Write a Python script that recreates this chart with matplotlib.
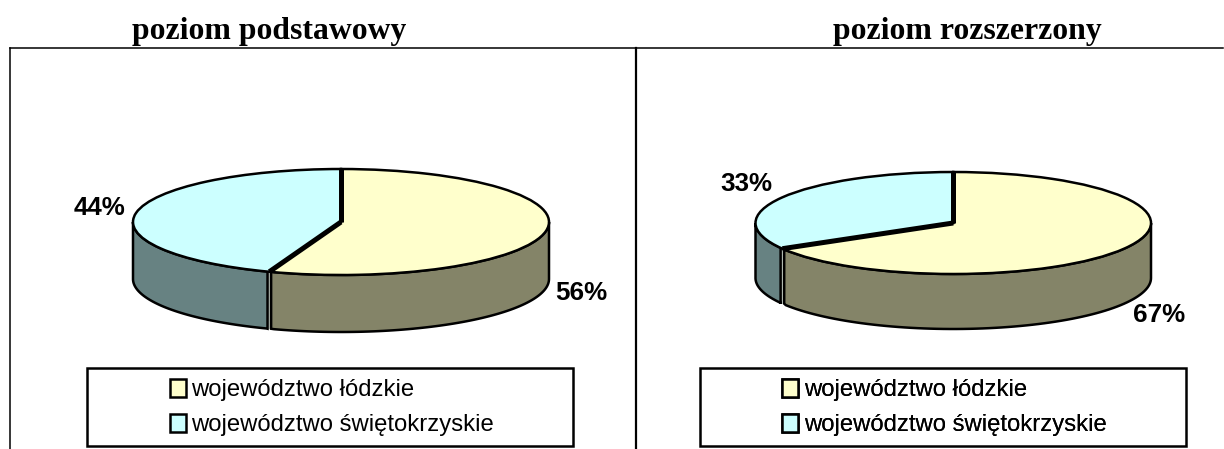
import numpy as np
import matplotlib
matplotlib.use('Agg')
import matplotlib.pyplot as plt
from matplotlib.patches import Patch, Rectangle, Polygon

W, H = 1224, 449

# data (read from the slice edges, the labels show them rounded)
titles = ['poziom podstawowy', 'poziom rozszerzony']
regions = ['województwo łódzkie', 'województwo świętokrzyskie']
values_basic = [55.6, 44.4]
values_ext = [66.6, 33.4]

colors_top = ['#FFFFCC', '#CCFFFF']
colors_wall = ['#848468', '#678282']

fig = plt.figure(figsize=(W/100, H/100), dpi=100, facecolor='white')

# background axes in pixel coordinates: frame, titles, legends, labels
bg = fig.add_axes([0, 0, 1, 1])
bg.set_xlim(0, W), bg.set_ylim(H, 0)
bg.axis('off')

bg.plot([10, W-1], [48, 48], 'k', lw=1.1)
bg.plot([10, 10], [48, H], 'k', lw=1.1)
bg.plot([635.5, 635.5], [48, H], 'k', lw=1.6)


def draw_pie(values, box, depth, labels_xy, title_x, legend_box, legend_x, title):
    x0, x1, y_top, ry = box
    # axes holds the pie top (unit ellipse) plus the wall under it
    bottom = y_top + 2*ry + depth
    ax = fig.add_axes([x0/W, 1-bottom/H, (x1-x0)/W, (bottom-y_top)/H])
    ax.pie(values, colors=colors_top, startangle=90, counterclock=False, radius=1,
           wedgeprops=dict(edgecolor='k', linewidth=1.8, clip_on=False, zorder=3))
    ax.set_aspect('auto')
    ax.set_xlim(-1, 1)
    d = depth/ry
    ax.set_ylim(-1-d, 1)
    ax.axis('off')

    # side wall, only the front part of the ellipse shows
    frac = np.cumsum(values)/np.sum(values)
    t_split = 90 - 360*frac[0]      # yellow runs clockwise from 90 to here
    spans = [(t_split, 0), (180, 360 + t_split)]
    gap = 1.8/((x1-x0)/2)
    x_split = np.cos(np.radians(t_split))
    y_split = np.sin(np.radians(t_split))
    ax.fill_between([x_split-gap, x_split+gap], [y_split]*2, [y_split-d]*2,
                    color='#b8c0b8', lw=0, zorder=0)
    for i, ((a, b), c) in enumerate(zip(spans, colors_wall)):
        th = np.radians(np.linspace(a, b, 80))
        xs = np.cos(th)
        ys = np.sin(th)
        # pull the cut faces apart a little, the outer edges stay put
        xs = np.maximum(xs, x_split+gap) if i == 0 else np.minimum(xs, x_split-gap)
        pts = np.r_[np.c_[xs, ys], np.c_[xs[::-1], ys[::-1]-d]]
        ax.add_patch(Polygon(pts, closed=True, fc=c, ec='k', lw=1.8, clip_on=False, zorder=1))

    # thick radial separators on the top
    for ang in [90, t_split]:
        ax.plot([0, np.cos(np.radians(ang))], [0, np.sin(np.radians(ang))], 'k', lw=3.6,
                solid_capstyle='butt', clip_on=False, zorder=4)

    for v, (lx, ly) in zip(values, labels_xy):
        bg.text(lx, ly, f'{v:.0f}%', ha='center', va='center', fontsize=18.7, fontweight='bold',
                family='Liberation Sans')

    bg.text(title_x, 31, title, ha='center', va='center', fontsize=22.9, fontweight='bold',
            family='Liberation Serif')

    lx0, lx1, ly0, ly1 = legend_box
    bg.add_patch(Rectangle((lx0, ly0), lx1-lx0, ly1-ly0, fc='white', ec='k', lw=1.8))
    handles = [Patch(fc=c, ec='k', lw=1.8) for c in colors_top]
    leg = bg.legend(handles, regions, loc='center left', bbox_to_anchor=(legend_x, (ly0+ly1)/2 + 0.7),
                    bbox_transform=bg.transData, frameon=False, borderpad=0, borderaxespad=0,
                    handlelength=0.67, handleheight=0.75, handletextpad=0.25, labelspacing=0.55,
                    prop=dict(family='Liberation Sans', size=17.2))
    bg.add_artist(leg)


draw_pie(values_basic, (133, 549, 169, 53), 57, [(581, 293), (99, 208)], 269.5,
         (87, 573, 368, 446), 169.5, titles[0])
draw_pie(values_ext, (755.5, 1151, 172, 51), 55, [(1159, 315), (746, 184)], 967,
         (700, 1185.5, 368, 446), 782, titles[1])

plt.savefig('out.png', dpi=100)
